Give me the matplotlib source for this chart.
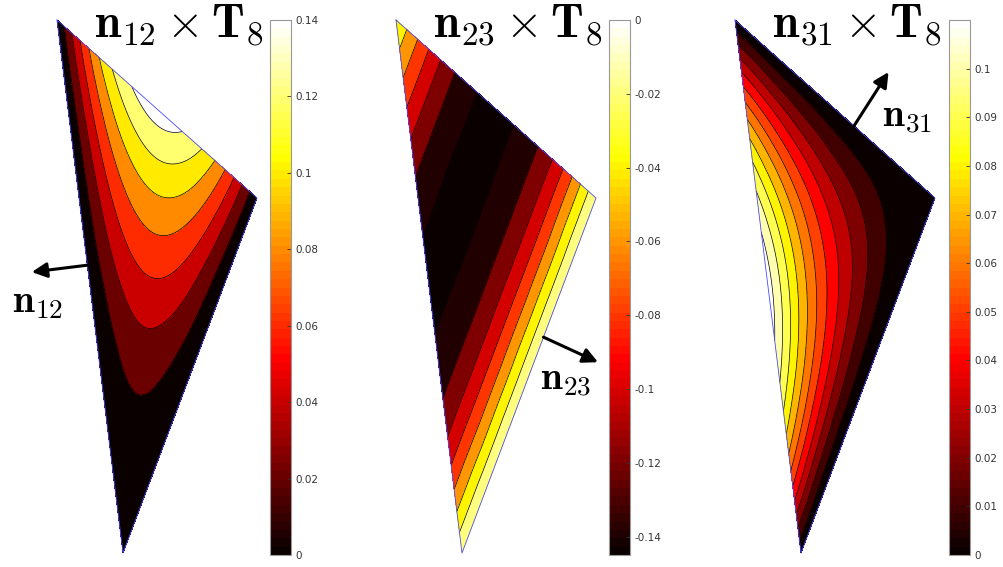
import numpy as np
import matplotlib
matplotlib.use('Agg')
import matplotlib.pyplot as plt
import matplotlib.tri as mtri
from matplotlib import colors as mcolors
from matplotlib.cm import ScalarMappable

plt.rcParams['mathtext.fontset'] = 'cm'

# field values read on a 6x6 lattice of the triangle
# rows go from edge AB (lam_C = 0) down to vertex C, each row from A side to B side
vals_12 = [0, 0.083, 0.133, 0.15, 0.133, 0.083, 0,
           0, 0.067, 0.10, 0.10, 0.067, 0,
           0, 0.05, 0.067, 0.05, 0,
           0, 0.033, 0.033, 0,
           0, 0.017, 0,
           0, 0,
           0]
vals_23 = [-0.02, -0.081, -0.129, -0.145, -0.129, -0.081, 0,
           -0.081, -0.129, -0.145, -0.129, -0.081, 0,
           -0.129, -0.145, -0.129, -0.081, 0,
           -0.145, -0.129, -0.081, 0,
           -0.129, -0.081, 0,
           -0.081, 0,
           0]
vals_31 = [0, 0, 0, 0, 0, 0, 0,
           0.064, 0.051, 0.038, 0.026, 0.013, 0,
           0.102, 0.077, 0.051, 0.026, 0,
           0.115, 0.077, 0.038, 0,
           0.102, 0.051, 0,
           0.064, 0,
           0]

# contour levels and colour limits
levels_12 = [0.02, 0.04, 0.06, 0.08, 0.10, 0.12, 0.14]
levels_23 = [-0.14, -0.12, -0.10, -0.08, -0.06, -0.04, -0.02]
levels_31 = [0.01, 0.02, 0.03, 0.04, 0.05, 0.06, 0.07, 0.08, 0.09, 0.10, 0.11]
clim_12 = (0, 0.14)
clim_23 = (-0.145, 0)
clim_31 = (0, 0.11)
ticks_12 = [0, 0.02, 0.04, 0.06, 0.08, 0.1, 0.12, 0.14]
ticks_23 = [-0.14, -0.12, -0.1, -0.08, -0.06, -0.04, -0.02, 0]
ticks_31 = [0, 0.01, 0.02, 0.03, 0.04, 0.05, 0.06, 0.07, 0.08, 0.09, 0.1]

titles = [r'$\mathbf{n}_{12}\times\mathbf{T}_8$',
          r'$\mathbf{n}_{23}\times\mathbf{T}_8$',
          r'$\mathbf{n}_{31}\times\mathbf{T}_8$']
normal_labels = [r'$\mathbf{n}_{12}$', r'$\mathbf{n}_{23}$', r'$\mathbf{n}_{31}$']

# triangle (pixel units, relative to top vertex A, y up)
A = np.array([0.0, 0.0])
B = np.array([200.0, -178.0])
C = np.array([66.0, -533.0])

N = 6
lam = []
pos = {}
for k in range(N + 1):
    for j in range(N + 1 - k):
        i = N - j - k
        pos[(j, k)] = len(lam)
        lam.append((i / N, j / N, k / N))
lam = np.array(lam)
px = lam[:, 0] * A[0] + lam[:, 1] * B[0] + lam[:, 2] * C[0]
py = lam[:, 0] * A[1] + lam[:, 1] * B[1] + lam[:, 2] * C[1]
tris = []
for k in range(N):
    for j in range(N - k):
        tris.append([pos[(j, k)], pos[(j + 1, k)], pos[(j, k + 1)]])
        if j < N - k - 1:
            tris.append([pos[(j + 1, k)], pos[(j + 1, k + 1)], pos[(j, k + 1)]])
triang = mtri.Triangulation(px, py, tris)
refiner = mtri.UniformTriRefiner(triang)

cmap = plt.get_cmap('hot', 64)

fig = plt.figure(figsize=(10.04, 5.67), dpi=100)
W, H = 1004, 567

# (A x-pixel, values, levels, clim, ticks, colorbar x, arrow(edge, t, length, turn deg), label pos)
panels = [
    (57, vals_12, levels_12, clim_12, ticks_12, 270, (A, C, 0.46, 56, 0), (-19, -282)),
    (396, vals_23, levels_23, clim_23, ticks_23, 609, (C, B, 0.608, 60, -4), (170, -360)),
    (735, vals_31, levels_31, clim_31, ticks_31, 949, (A, B, 0.595, 64, 9), (172, -97)),
]

for p, (ax0, vals, levels, clim, ticks, cbx, arrow, lab) in enumerate(panels):
    # axes in pixel units
    left, right = ax0 - 57, ax0 + 213
    top, bot = 10, 563
    ax = fig.add_axes([left / W, 1 - bot / H, (right - left) / W, (bot - top) / H])
    ax.set_xlim(-57, 213)
    ax.set_ylim(-(bot - 20), -(top - 20))
    ax.axis('off')

    tri_ref, z_ref = refiner.refine_field(np.array(vals), subdiv=4)
    norm = mcolors.Normalize(*clim, clip=True)
    lower = [clim[0]] + levels
    ax.tricontourf(tri_ref, z_ref, levels=[-1] + levels + [1],
                   colors=[cmap(norm(v)) for v in lower])
    ax.tricontour(tri_ref, z_ref, levels=levels, colors='k', linewidths=0.5,
                  linestyles='solid')
    tri_x = [A[0], B[0], C[0], A[0]]
    tri_y = [A[1], B[1], C[1], A[1]]
    ax.plot(tri_x, tri_y, color='#4a4aff', lw=0.6)

    # outward normal arrow
    P, Q, t, L, turn = arrow
    s = P + t * (Q - P)
    d = (Q - P) / np.hypot(*(Q - P))
    nrm = np.array([d[1], -d[0]])
    if np.dot(nrm, s - (A + B + C) / 3) < 0:
        nrm = -nrm
    a = np.radians(turn)
    nrm = np.array([nrm[0] * np.cos(a) - nrm[1] * np.sin(a),
                    nrm[0] * np.sin(a) + nrm[1] * np.cos(a)])
    ax.annotate('', xy=s + L * nrm, xytext=s, annotation_clip=False,
                arrowprops=dict(arrowstyle='-|>,head_length=0.9,head_width=0.45',
                                lw=2.2, color='k', mutation_scale=10,
                                shrinkA=0, shrinkB=0))
    ax.text(lab[0], lab[1], normal_labels[p], fontsize=28, ha='center', va='center')
    ax.text(121.5, -16, titles[p], fontsize=34, ha='center', va='baseline')

    cax = fig.add_axes([cbx / W, 1 - 555 / H, 21 / W, 535 / H])
    cb = fig.colorbar(ScalarMappable(norm=norm, cmap=cmap), cax=cax, ticks=ticks)
    cb.ax.set_yticklabels(['%g' % v for v in ticks])
    cb.ax.tick_params(direction='in', length=3, width=0.6, labelsize=7.5,
                      colors='#333333', pad=3)
    cb.outline.set_edgecolor('#999999')
    cb.outline.set_linewidth(0.8)

fig.savefig('out.png', dpi=100)
